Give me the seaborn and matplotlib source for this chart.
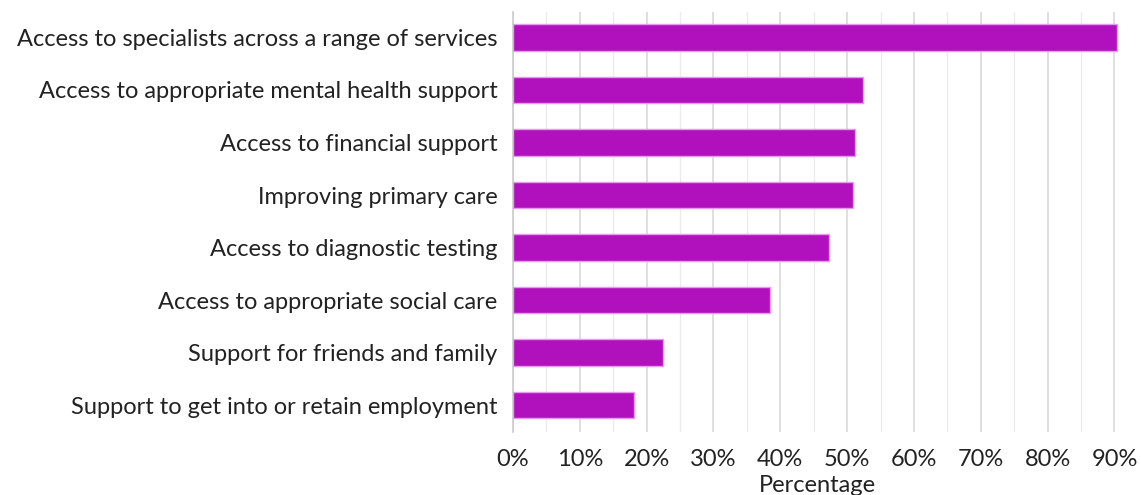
import pandas as pd
import numpy as np
import matplotlib.pyplot as plt
import seaborn as sns
from matplotlib.ticker import MultipleLocator, PercentFormatter

sns.set_theme(style="white")
plt.rcParams['font.family'] = ['Lato', 'DejaVu Sans']

## Data
categories = [
    "Access to specialists across a range of services",
    "Access to appropriate mental health support",
    "Access to financial support",
    "Improving primary care",
    "Access to diagnostic testing",
    "Access to appropriate social care",
    "Support for friends and family",
    "Support to get into or retain employment",
]
percentages = [90.4, 52.4, 51.2, 50.9, 47.3, 38.5, 22.5, 18.1]

data = pd.DataFrame({"category": categories, "percentage": percentages})

fig = plt.figure(figsize=(11.41, 4.95), dpi=100)
ax = fig.add_axes([0.4496, 0.127, 0.533, 0.849])

sns.barplot(data=data, x="percentage", y="category", orient="h",
            color="#B111BD", width=0.5, edgecolor="#E59AEC", linewidth=1,
            saturation=1, ax=ax, zorder=3)

ax.set_xlim(0, 91)
ax.set_ylim(7.514, -0.486)
ax.xaxis.set_major_locator(MultipleLocator(10))
ax.xaxis.set_minor_locator(MultipleLocator(5))
ax.xaxis.set_major_formatter(PercentFormatter(decimals=0))
ax.grid(axis="x", which="major", color="#d9d9d9", linewidth=1.2, zorder=0)
ax.grid(axis="x", which="minor", color="#ececec", linewidth=1.0, zorder=0)
ax.set_axisbelow(True)

for s in ["top", "right", "bottom"]:
    ax.spines[s].set_visible(False)
ax.spines["left"].set_color("#cccccc")
ax.spines["left"].set_linewidth(1.2)

ax.tick_params(axis="both", which="both", length=0, labelsize=17, colors="#222222")
ax.tick_params(axis="x", pad=12)
ax.tick_params(axis="y", pad=11)
ax.set_ylabel("")
ax.set_xlabel("Percentage", fontsize=17, color="#222222", labelpad=4)

fig.savefig("out.png", dpi=100)
